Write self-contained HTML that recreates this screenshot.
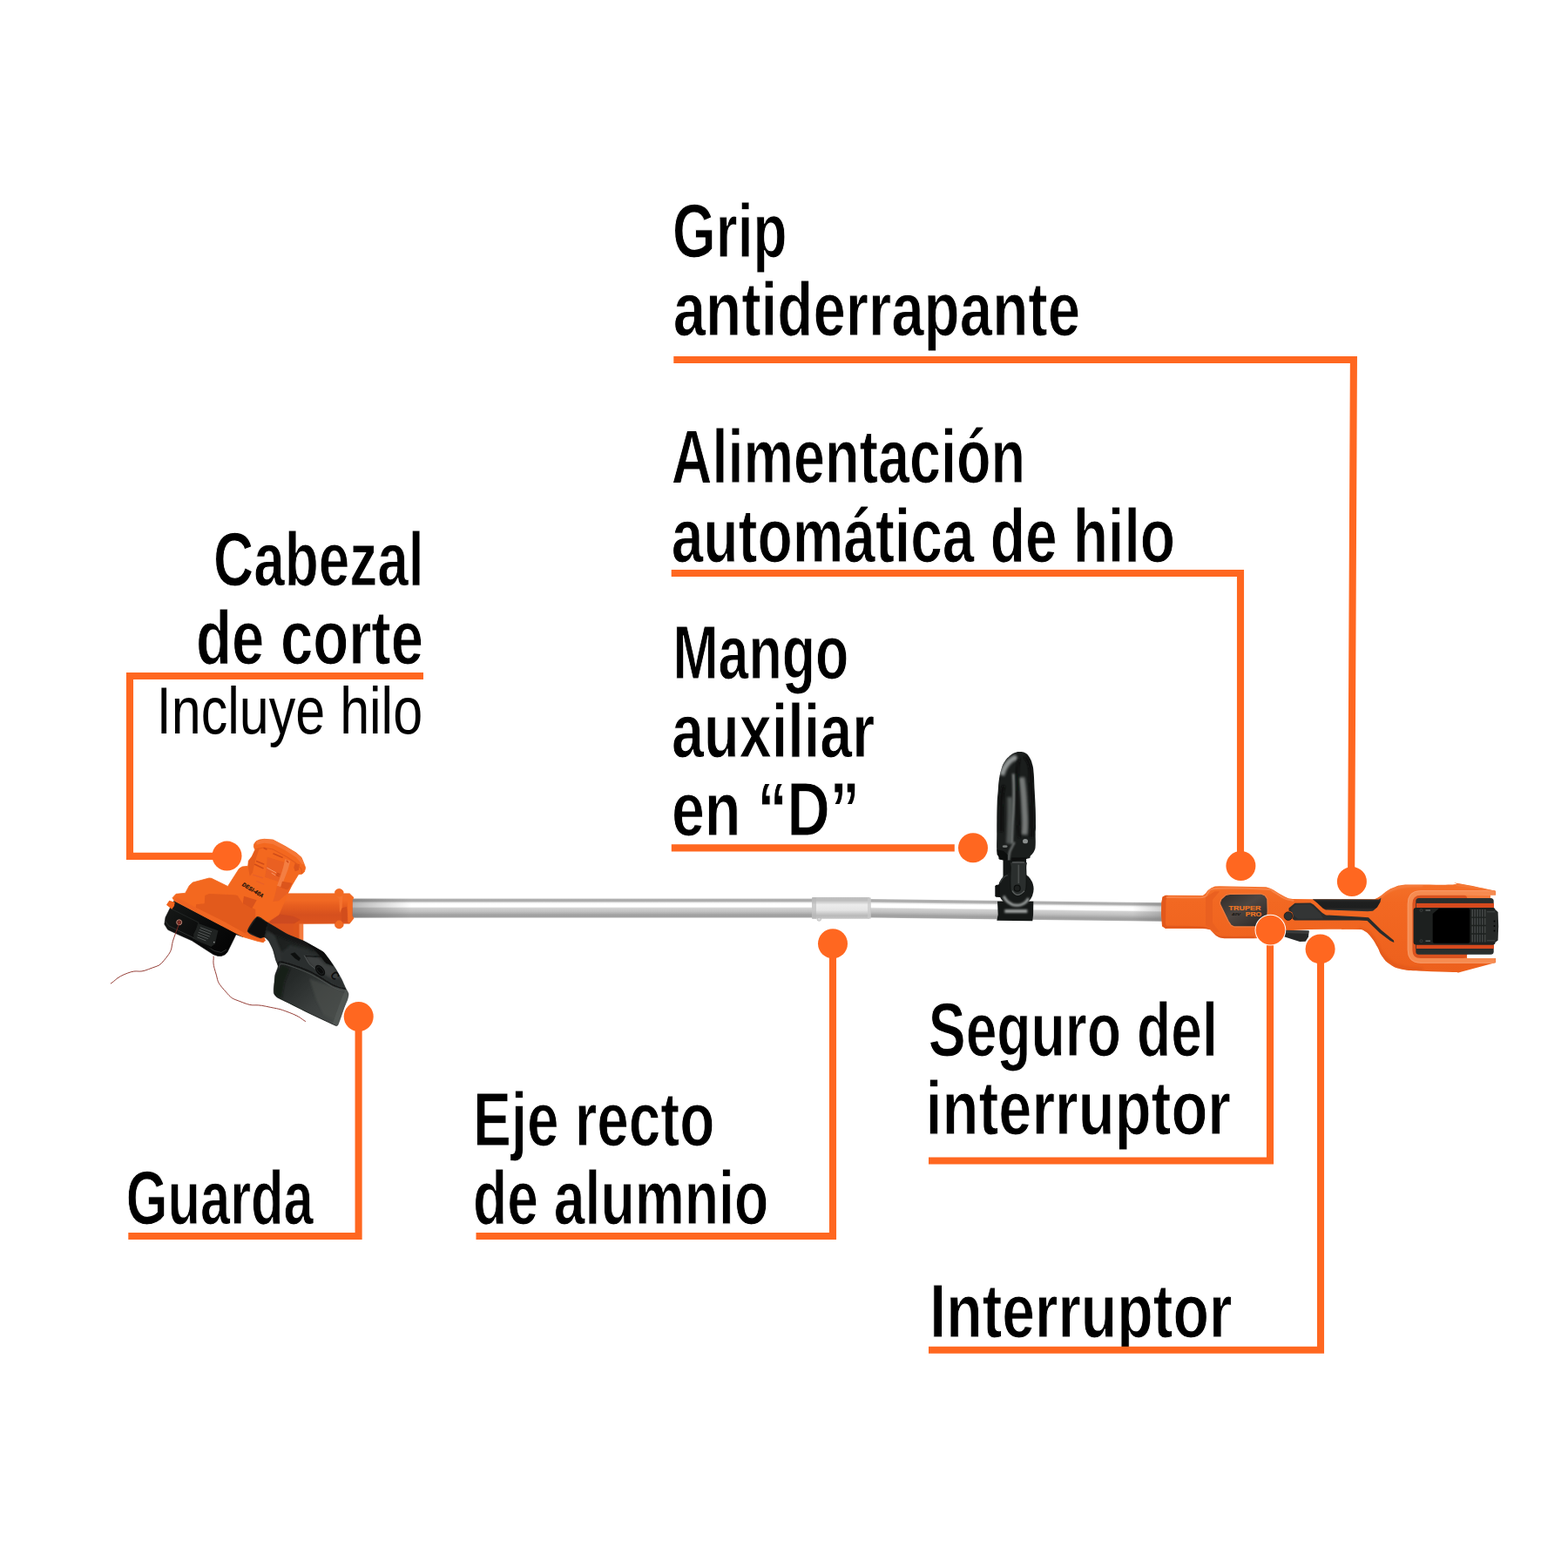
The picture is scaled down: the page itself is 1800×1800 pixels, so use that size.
<!DOCTYPE html>
<html lang="es">
<head>
<meta charset="utf-8">
<title>Desbrozadora - partes</title>
<style>
html,body{margin:0;padding:0;background:#fff;}
body{width:1800px;height:1800px;overflow:hidden;}
svg{display:block;}
.b{font-family:"Liberation Sans",sans-serif;font-weight:bold;font-size:87.4px;fill:#000;stroke:#fff;stroke-width:1.1px;}
.r{font-family:"Liberation Sans",sans-serif;font-weight:normal;font-size:75.8px;fill:#000;}
.ln{fill:none;stroke:#FF6720;stroke-width:8.1;stroke-linejoin:miter;stroke-linecap:butt;}
.dot{fill:#FF6720;}
</style>
</head>
<body>
<svg width="1800" height="1800" viewBox="0 0 1800 1800">
<rect width="1800" height="1800" fill="#fff"/>
<defs>
<linearGradient id="gShaft" x1="0" y1="0" x2="0" y2="1">
<stop offset="0" stop-color="#b4b4b4"/><stop offset="0.12" stop-color="#a8a8a8"/><stop offset="0.22" stop-color="#f2f2f2"/><stop offset="0.28" stop-color="#ffffff"/>
<stop offset="0.43" stop-color="#ffffff"/><stop offset="0.5" stop-color="#d2d2d2"/><stop offset="0.68" stop-color="#c0c0c0"/>
<stop offset="0.86" stop-color="#a0a0a0"/><stop offset="0.95" stop-color="#a2a2a2"/><stop offset="1" stop-color="#bcbcbc"/></linearGradient>
<linearGradient id="gCoup" x1="0" y1="0" x2="0" y2="1">
<stop offset="0" stop-color="#c0c0c0"/><stop offset="0.15" stop-color="#bdbdbd"/><stop offset="0.35" stop-color="#ececec"/>
<stop offset="0.6" stop-color="#e4e4e4"/><stop offset="0.85" stop-color="#b9b9b9"/><stop offset="1" stop-color="#c6c6c6"/></linearGradient>
<linearGradient id="gShadeL" x1="0" y1="0" x2="1" y2="0">
<stop offset="0" stop-color="#555" stop-opacity="0.45"/><stop offset="1" stop-color="#555" stop-opacity="0"/></linearGradient>
<linearGradient id="gShadeR" x1="1" y1="0" x2="0" y2="0">
<stop offset="0" stop-color="#666" stop-opacity="0.35"/><stop offset="1" stop-color="#666" stop-opacity="0"/></linearGradient>
<linearGradient id="gOrg" gradientUnits="userSpaceOnUse" x1="0" y1="1015" x2="0" y2="1117">
<stop offset="0" stop-color="#F47029"/><stop offset="0.2" stop-color="#F26822"/><stop offset="0.6" stop-color="#F0641F"/><stop offset="1" stop-color="#EC601D"/></linearGradient>
<linearGradient id="gPlate" x1="0" y1="0" x2="1" y2="1">
<stop offset="0" stop-color="#2f2a27"/><stop offset="0.45" stop-color="#4d4642"/><stop offset="1" stop-color="#2a2523"/></linearGradient>
<linearGradient id="gGrip" x1="0" y1="0" x2="0" y2="1">
<stop offset="0" stop-color="#3a3b3b"/><stop offset="0.3" stop-color="#1f2020"/><stop offset="0.7" stop-color="#1d1e1e"/><stop offset="1" stop-color="#343535"/></linearGradient>
<linearGradient id="gBat" x1="0" y1="0" x2="0" y2="1">
<stop offset="0" stop-color="#2c302f"/><stop offset="0.5" stop-color="#1b1e1d"/><stop offset="1" stop-color="#2c302f"/></linearGradient>
<clipPath id="cHandle"><path d="M1333.3 1036 L1334.5 1029.6 L1338 1027.7 L1380.7 1028 L1383.5 1026 L1386.7 1022 L1390.5 1019.2 L1394.7 1017.6 L1400 1017.2 L1453.3 1018.3 L1457.5 1019.4 L1461.3 1021.3 L1468 1025.5 L1474.7 1029.3 L1479 1031.2 L1484 1032 L1506.7 1032.2 L1583 1032.4 L1583 1067 L1540 1066.7 L1504 1067 L1474 1068.5 L1468 1072 L1460 1075 L1450 1077 L1440 1077.3 L1405.3 1077.3 L1400 1076.2 L1396 1074 L1392.5 1070.5 L1389.3 1067.3 L1385 1066.2 L1380 1066 L1338 1066 L1334 1063.3 L1333 1050Z"/><path d="M1540 1032.4 L1577.3 1032.4L1577.3 1032.4 C1578.9 1031.6 1580.3 1031.3 1584 1028.9 C1587.7 1026.5 1589.3 1024.5 1593.3 1022 C1597.3 1019.5 1597.6 1019.7 1601.3 1018.3 C1605.0 1016.9 1604.3 1016.8 1609.3 1016.1 C1614.3 1015.4 1609.0 1015.6 1622.7 1015.5 C1636.4 1015.4 1656.2 1015.9 1668 1015.5 C1679.8 1015.1 1662.0 1012.3 1673.3 1013.9 C1684.6 1015.5 1706.3 1020.5 1716.3 1022.5 L1717.1 1023.6 L1717.1 1027.6 L1684.2 1027.8 L1684.2 1099.8 L1717.1 1100.1 L1717.1 1104.9 L1673.3 1116.7L1673.3 1116.7 C1672.1 1116.5 1677.3 1116.4 1668 1116 C1658.7 1115.6 1647.0 1115.6 1633.3 1114.8 C1619.6 1114.0 1618.0 1114.5 1609.3 1112.7 C1600.6 1111.0 1601.3 1110.7 1596 1107.3 C1590.7 1103.9 1590.1 1102.7 1586.7 1098 C1583.3 1093.3 1584.1 1092.3 1581.3 1087.3 C1578.5 1082.3 1578.1 1081.0 1574.7 1076.7 C1571.3 1072.4 1570.8 1071.2 1566.7 1068.9 C1562.6 1066.6 1563.5 1067.3 1557.3 1066.8 C1551.1 1066.3 1544.0 1066.7 1540 1066.7 Z"/></clipPath>
<filter id="b1" filterUnits="userSpaceOnUse" x="100" y="840" width="1660" height="360"><feGaussianBlur stdDeviation="1"/></filter>
<filter id="b2" filterUnits="userSpaceOnUse" x="100" y="840" width="1660" height="360"><feGaussianBlur stdDeviation="1.8"/></filter>
<filter id="b05" filterUnits="userSpaceOnUse" x="100" y="840" width="1660" height="360"><feGaussianBlur stdDeviation="0.5"/></filter>
<clipPath id="cLoop"><path id="loopP" d="M1170 863 C1167.5 862.9 1168.3 862.8 1166 863.7 C1163.7 864.6 1163.0 864.5 1160 867 C1157.0 869.5 1155.8 870.4 1153.3 874.3 C1150.8 878.2 1150.8 878.6 1149.3 883.7 C1147.8 888.8 1147.5 890.6 1146.7 896.3 C1145.9 902.0 1146.2 902.4 1145.7 908.3 C1145.2 914.2 1145.0 913.9 1144.7 921.7 C1144.4 929.5 1144.4 933.5 1144.3 941.7 C1144.2 949.9 1144.3 948.5 1144.3 956.7 C1144.3 964.9 1143.9 970.6 1144.3 976.7 C1144.7 982.8 1144.4 980.2 1146 982.7 C1147.6 985.2 1143.8 986.5 1151.3 987.3 C1158.8 988.1 1170.5 987.2 1178 986 C1185.5 984.8 1181.1 984.2 1183.3 982 C1185.5 979.8 1186.0 979.5 1187.3 976.7 C1188.6 973.9 1188.4 974.7 1188.7 970 C1189.0 965.3 1188.6 961.8 1188.7 956.7 C1188.8 951.6 1189.0 954.9 1189 948.3 C1189.0 941.7 1189.0 937.6 1188.7 928.3 C1188.4 919.0 1188.2 917.6 1187.7 908.3 C1187.2 899.0 1187.3 895.3 1186.7 888.3 C1186.1 881.3 1186.4 882.6 1185.3 878.3 C1184.2 874.0 1184.0 873.0 1182 869.7 C1180.0 866.4 1179.5 865.9 1176.7 864.3 C1173.9 862.7 1172.5 863.1 1170 863Z"/></clipPath>
<linearGradient id="gGuard" gradientUnits="userSpaceOnUse" x1="318" y1="1090" x2="392" y2="1165">
<stop offset="0" stop-color="#1d201f"/><stop offset="0.35" stop-color="#262a29"/><stop offset="0.7" stop-color="#3a3e3d"/><stop offset="1" stop-color="#454948"/></linearGradient>
<linearGradient id="gSpool" gradientUnits="userSpaceOnUse" x1="200" y1="1040" x2="260" y2="1095">
<stop offset="0" stop-color="#151716"/><stop offset="0.5" stop-color="#0b0c0c"/><stop offset="1" stop-color="#040404"/></linearGradient>
<linearGradient id="gNeck" gradientUnits="userSpaceOnUse" x1="0" y1="1025" x2="0" y2="1061">
<stop offset="0" stop-color="#F06A26"/><stop offset="0.22" stop-color="#F26A24"/><stop offset="0.42" stop-color="#E65D1F"/><stop offset="0.7" stop-color="#D6501E"/><stop offset="1" stop-color="#DC541E"/></linearGradient>
<clipPath id="cGuard"><path d="M295 1052.5 L307.5 1059.2 L330 1072.5 L348.3 1080 L363.3 1088.3 L371.7 1093.3 L380 1104.2 L385 1111.7 L391.7 1123.3 L396.7 1134.2 L400 1140.8 L398.8 1147.5 L395 1156.7 L388.3 1175.8 L385.8 1177.5 L380 1175 L355 1163.3 L330 1150.8 L318.3 1145 L314.6 1140.8 L314.2 1135.8 L315 1127.5 L315.8 1119.2 L319.2 1109.2 L316.7 1102.5 L313.3 1090 L308.3 1080 L303.3 1075.8 L298.3 1076.7 L284.2 1069.2Z"/></clipPath>
<clipPath id="cBody"><path d="M198 1030.7 L202 1026.3 L212.7 1025.3 L217.3 1016.7 L221.3 1013 L240 1008 L242.7 1008.3 L261.5 1017.5 L273.3 999 L274.7 997 L278 995 L284.7 994.3 L285.3 988.3 L289.3 983 L292.7 975.7 L291.3 971.7 L291.7 969 L294 965.7 L298 964 L303.3 963.3 L313.3 964 L326.7 971 L340 979 L346 984.3 L349.3 992.3 L350.7 996.3 L349.3 1001 L346.7 1003.3 L342.7 1003.7 L338.7 1010.3 L334.7 1017 L330.7 1025 L330 1027 L320 1050 L305 1060 L300 1072 L302.5 1081.8 L296 1080.5 L279 1075.5 L200 1034Z"/></clipPath>
<clipPath id="cNeck"><path d="M328 1025.7 L384.2 1025.7 L384.6 1023 L386.5 1021 L389.3 1020.2 L392 1021 L394 1023 L394.4 1025.7 L401.3 1025.7 L406 1030.3 L404.6 1033.5 L404.4 1051 L406 1054.3 L401.3 1060.3 L394.4 1060.3 L394 1063.3 L391.5 1065.4 L389.3 1066 L386.5 1065.2 L384.7 1063.3 L384.2 1060.3 L348 1060.5 L348 1082 L336.7 1076 L300 1076 L296 1052Z"/></clipPath>
</defs>
<g id="labels">
<text class="b" transform="translate(772.08 295.0) scale(0.7310 1)">Grip</text>
<text class="b" transform="translate(772.69 385.0) scale(0.7700 1)">antiderrapante</text>
<text class="b" transform="translate(770.78 554.0) scale(0.7402 1)">Alimentación</text>
<text class="b" transform="translate(770.74 645.0) scale(0.7536 1)">automática de hilo</text>
<text class="b" transform="translate(245.08 671.7) scale(0.7310 1)">Cabezal</text>
<text class="b" transform="translate(224.93 762.0) scale(0.7681 1)">de corte</text>
<text class="r" transform="translate(179.86 841.8) scale(0.8051 1)">Incluye hilo</text>
<text class="b" transform="translate(772.40 778.7) scale(0.7169 1)">Mango</text>
<text class="b" transform="translate(771.02 868.7) scale(0.7615 1)">auxiliar</text>
<text class="b" transform="translate(770.88 959.2) scale(0.7808 1)">en “D”</text>
<text class="b" transform="translate(144.79 1405.0) scale(0.7026 1)">Guarda</text>
<text class="b" transform="translate(542.89 1315.0) scale(0.7515 1)">Eje recto</text>
<text class="b" transform="translate(543.06 1405.0) scale(0.7351 1)">de alumnio</text>
<text class="b" transform="translate(1065.79 1211.7) scale(0.7353 1)">Seguro del</text>
<text class="b" transform="translate(1062.51 1301.7) scale(0.7847 1)">interruptor</text>
<text class="b" transform="translate(1067.34 1535.0) scale(0.7768 1)">Interruptor</text>
</g>
<g id="callouts-back">
<path class="ln" d="M773.3 413 H1553.9 L1551.1 1012"/>
<path class="ln" d="M770.7 658 H1424 V993"/>
<path class="ln" d="M486 776 H149 V982.9 H260"/>
<path class="ln" d="M770.8 973.4 H1095.8"/>
<path class="ln" d="M147.3 1419 H411.6 V1166"/>
<path class="ln" d="M546.5 1419 H956 V1083"/>
<path class="ln" d="M1066 1549.8 H1516 V1088"/>
<circle class="dot" cx="1424.4" cy="994" r="17"/>
<circle class="dot" cx="1551.9" cy="1012.1" r="17"/>
<circle class="dot" cx="260.5" cy="982.6" r="17"/>
<circle class="dot" cx="1117" cy="973.3" r="17"/>
<circle class="dot" cx="411.7" cy="1167" r="17"/>
<circle class="dot" cx="956" cy="1083.3" r="17"/>
<circle class="dot" cx="1515.6" cy="1089.4" r="17"/>
</g>
<g id="product">
<g id="shaft">
<rect x="402" y="1031.6" width="532" height="22" fill="url(#gShaft)"/>
<rect x="402" y="1031.6" width="70" height="22" fill="url(#gShadeL)"/>
<g transform="rotate(0.72 998 1043)"><rect x="996" y="1032" width="342" height="21.6" fill="url(#gShaft)"/><rect x="1300" y="1032" width="38" height="21.6" fill="url(#gShadeR)"/></g>
<rect x="932" y="1030" width="67" height="24.8" rx="1.5" fill="url(#gCoup)"/>
<rect x="932" y="1030" width="5" height="24.8" fill="#b5b5b5" opacity="0.6"/>
<rect x="996" y="1030.5" width="4" height="24" fill="#c9c9c9" opacity="0.7"/>
<ellipse cx="940.3" cy="1055.3" rx="2.3" ry="2" fill="#d9d9d9" stroke="#b0b0b0" stroke-width="0.6"/>
</g>
<g id="handle">
<path d="M1333.3 1036 L1334.5 1029.6 L1338 1027.7 L1380.7 1028 L1383.5 1026 L1386.7 1022 L1390.5 1019.2 L1394.7 1017.6 L1400 1017.2 L1453.3 1018.3 L1457.5 1019.4 L1461.3 1021.3 L1468 1025.5 L1474.7 1029.3 L1479 1031.2 L1484 1032 L1506.7 1032.2 L1583 1032.4 L1583 1067 L1540 1066.7 L1504 1067 L1474 1068.5 L1468 1072 L1460 1075 L1450 1077 L1440 1077.3 L1405.3 1077.3 L1400 1076.2 L1396 1074 L1392.5 1070.5 L1389.3 1067.3 L1385 1066.2 L1380 1066 L1338 1066 L1334 1063.3 L1333 1050Z" fill="url(#gOrg)"/>
<path d="M1540 1032.4 L1577.3 1032.4L1577.3 1032.4 C1578.9 1031.6 1580.3 1031.3 1584 1028.9 C1587.7 1026.5 1589.3 1024.5 1593.3 1022 C1597.3 1019.5 1597.6 1019.7 1601.3 1018.3 C1605.0 1016.9 1604.3 1016.8 1609.3 1016.1 C1614.3 1015.4 1609.0 1015.6 1622.7 1015.5 C1636.4 1015.4 1656.2 1015.9 1668 1015.5 C1679.8 1015.1 1662.0 1012.3 1673.3 1013.9 C1684.6 1015.5 1706.3 1020.5 1716.3 1022.5 L1717.1 1023.6 L1717.1 1027.6 L1684.2 1027.8 L1684.2 1099.8 L1717.1 1100.1 L1717.1 1104.9 L1673.3 1116.7L1673.3 1116.7 C1672.1 1116.5 1677.3 1116.4 1668 1116 C1658.7 1115.6 1647.0 1115.6 1633.3 1114.8 C1619.6 1114.0 1618.0 1114.5 1609.3 1112.7 C1600.6 1111.0 1601.3 1110.7 1596 1107.3 C1590.7 1103.9 1590.1 1102.7 1586.7 1098 C1583.3 1093.3 1584.1 1092.3 1581.3 1087.3 C1578.5 1082.3 1578.1 1081.0 1574.7 1076.7 C1571.3 1072.4 1570.8 1071.2 1566.7 1068.9 C1562.6 1066.6 1563.5 1067.3 1557.3 1066.8 C1551.1 1066.3 1544.0 1066.7 1540 1066.7 Z" fill="url(#gOrg)"/>
<path d="M1628 1027.5 H1711 V1031.2 H1628Z" fill="#F47A3A"/>
<g clip-path="url(#cHandle)">
<rect x="1619" y="1027" width="66" height="73" rx="6" fill="#DA521E"/>
<path d="M1716.8 1025 H1631 Q1618.6 1025 1618.6 1037.5 V1090.5 Q1618.6 1102.9 1631 1102.9 H1716.8" fill="none" stroke="#F68B50" stroke-width="5.6"/>
<path d="M1716.8 1022.6 H1631 Q1616.2 1022.6 1616.2 1037.5 V1090.5 Q1616.2 1105.3 1631 1105.3 H1716.8" fill="none" stroke="#F9A273" stroke-width="0.9" opacity="0.8"/>
<path d="M1668 1015.5 L1673.3 1013.9 L1716.3 1022.5 L1716.7 1023.3 L1673.3 1017.3Z" fill="#F47A3A" opacity="0.8"/>
<path d="M1584 1030 C1586.2 1028.5 1588.9 1026.0 1593.3 1023.6 C1597.7 1021.2 1597.7 1021.1 1602.7 1019.6 C1607.7 1018.1 1607.6 1018.0 1614.7 1017.3 C1621.8 1016.6 1629.0 1016.8 1633.3 1016.7" fill="none" stroke="#F9935F" stroke-width="2.2" opacity="0.55" filter="url(#b1)"/>
<path d="M1560 1066 C1562.8 1067.2 1567.3 1067.3 1572 1071.3 C1576.7 1075.3 1576.6 1077.7 1580 1083.3 C1583.4 1088.9 1582.7 1090.2 1586.7 1095.3 C1590.7 1100.4 1591.4 1101.7 1597.3 1105.3 C1603.2 1108.9 1603.6 1109.0 1612 1110.7 C1620.4 1112.4 1628.3 1112.2 1633.3 1112.7" fill="none" stroke="#DC551D" stroke-width="3" opacity="0.6" filter="url(#b1)"/>
<path d="M1333.3 1036 L1334.5 1029.6 L1338 1027.7 L1341 1028 L1338.5 1033 L1338 1060 L1340 1066 L1338 1066 L1334 1063.3 L1333 1050Z" fill="#E2581B"/>
<path d="M1338.7 1030 C1345.6 1030.0 1372.0 1030.8 1380 1030 C1388.0 1029.2 1384.0 1026.6 1386.7 1024.9 C1389.4 1023.2 1384.9 1020.7 1396 1020 C1407.1 1019.3 1442.4 1020.2 1453.3 1020.7 C1464.2 1021.2 1457.7 1021.5 1461.3 1023.3 C1464.9 1025.1 1470.7 1029.5 1474.7 1031.3 C1478.7 1033.1 1483.5 1033.5 1485.3 1034" fill="none" stroke="#F98D56" stroke-width="2" opacity="0.7" filter="url(#b05)"/>
<path d="M1338.7 1064 C1345.6 1064.1 1371.6 1063.9 1380 1064.7 C1388.4 1065.5 1386.4 1067.0 1389.3 1068.7 C1392.2 1070.4 1394.4 1073.5 1397.3 1074.7 C1400.2 1075.9 1399.6 1075.8 1406.7 1076 C1413.8 1076.2 1434.5 1076.0 1440 1076" fill="none" stroke="#DE561C" stroke-width="2.4" opacity="0.8" filter="url(#b05)"/>
<path d="M1384 1030 L1394.7 1023.3 L1400 1023.3 L1392 1032.7 L1392 1059.3 L1400 1070 L1394.7 1070 L1384 1062Z" fill="#EA6020"/>
</g>
<path d="M1400.4 1036 L1402 1032 L1407.3 1027.3 L1412 1026.3 L1447.7 1026 L1452.3 1027.9 L1454.9 1031.9 L1455.3 1046 L1454.4 1057.3 L1452.3 1061.7 L1448.3 1063.9 L1417.1 1064 L1413.3 1062.3 L1409.9 1057.3 L1400.7 1038.3Z" fill="url(#gPlate)" stroke="#F07A3C" stroke-width="1.3" stroke-linejoin="round"/>
<text x="1410.6" y="1045.1" font-family="Liberation Sans, sans-serif" font-weight="bold" font-size="8" textLength="36.8" lengthAdjust="spacingAndGlyphs" fill="#EE7624" stroke="#EE7624" stroke-width="0.2">TRUPER</text>
<text x="1429.8" y="1052.2" font-family="Liberation Sans, sans-serif" font-weight="bold" font-size="8" textLength="18.4" lengthAdjust="spacingAndGlyphs" fill="#EE7624" stroke="#EE7624" stroke-width="0.2">PRO</text>
<text x="1414" y="1051.4" font-family="Liberation Sans, sans-serif" font-weight="bold" font-style="italic" font-size="4.4" textLength="10" lengthAdjust="spacingAndGlyphs" fill="#141210">40V</text>
<path d="M1506.7 1032.2 L1583 1032.5 L1585.5 1030.5 L1584.5 1035.5 L1581 1041.5 L1576 1045.8 L1570 1046.2 L1522 1044.4 L1519 1043 L1512 1036.5Z" fill="url(#gGrip)"/>
<path d="M1479.5 1042.5 L1486.5 1036.8 L1504.5 1036.6 L1508 1038.5 L1518 1048 L1522 1050.5 L1560 1052.6 L1571 1053.2 L1586 1068 L1600 1079.5 L1600.3 1082 L1596 1080 L1584 1071 L1569.5 1057 L1560 1056.4 L1520 1056.4 L1486 1056.6 L1481.5 1053.5 L1479.5 1048Z" fill="#2a2c2c"/>
<path d="M1487 1038.2 L1504 1038 L1516 1049 L1519 1054.5 L1490 1054.8 L1484 1050 L1482 1044Z" fill="#333535"/>
<circle cx="1478.7" cy="1051.4" r="5.8" fill="#E9601D"/>
<circle cx="1478.9" cy="1051.6" r="4.7" fill="#2f3131" stroke="#171818" stroke-width="0.9"/>
<path d="M1466 1067.5 L1502.7 1068.4 L1502 1075.5 L1498.7 1080.7 L1492 1080.9 L1473.3 1075 L1466 1071.5Z" fill="#262828"/>
<path d="M1470 1068 L1502.5 1068.6 L1502 1072 L1474 1071Z" fill="#3a3c3c"/>
<rect x="1625.3" y="1031" width="89.4" height="64.8" rx="3.5" fill="url(#gBat)"/>
<rect x="1626" y="1036.9" width="89" height="5.1" fill="#D64A1E"/>
<rect x="1626" y="1084.5" width="89" height="4.5" fill="#D64A1E"/>
<rect x="1622.6" y="1042" width="94" height="42.5" rx="3" fill="#1d201f"/>
<path d="M1644.7 1049 L1652 1042.7 L1686 1042.7 L1687.3 1044 L1687.3 1081.4 L1686 1082.8 L1646 1082.8 L1644.7 1081.4Z" fill="#000"/>
<rect x="1689.5" y="1044" width="1.5" height="37.5" fill="#444847"/><rect x="1692.4" y="1044" width="1.5" height="37.5" fill="#444847"/><rect x="1695.3" y="1044" width="1.5" height="37.5" fill="#444847"/><rect x="1698.2" y="1044" width="1.5" height="37.5" fill="#444847"/><rect x="1701.1" y="1044" width="1.5" height="37.5" fill="#444847"/><rect x="1704.0" y="1044" width="1.5" height="37.5" fill="#444847"/>
<path d="M1688 1053.2 H1706 M1688 1062.5 H1706 M1688 1072 H1706" stroke="#1d201f" stroke-width="1.3" fill="none"/>
<path d="M1706 1045 L1717 1044.4 L1719.6 1047 L1720.2 1063 L1719.6 1079.5 L1717 1081.6 L1706 1081.4Z" fill="#262928"/>
<rect x="1707" y="1046" width="9" height="1.4" fill="#3b3f3e"/><rect x="1707" y="1079" width="9" height="1.4" fill="#3b3f3e"/>
<circle cx="1715.5" cy="1057.5" r="0.9" fill="#000"/><circle cx="1715.5" cy="1063" r="0.9" fill="#000"/><circle cx="1715.5" cy="1068.5" r="0.9" fill="#000"/>
<circle cx="1631.5" cy="1045" r="1.5" fill="none" stroke="#4a4e4d" stroke-width="0.6"/><circle cx="1631.5" cy="1080.2" r="1.5" fill="none" stroke="#4a4e4d" stroke-width="0.6"/>
<rect x="1636.5" y="1044.2" width="5.5" height="1.6" fill="#5a5e5d"/><rect x="1636.5" y="1079.4" width="5.5" height="1.6" fill="#5a5e5d"/>
<rect x="1684.2" y="1096" width="34" height="3.8" fill="#fff"/>
</g>
<g id="dhandle">
<path d="M1170 863 C1167.5 862.9 1168.3 862.8 1166 863.7 C1163.7 864.6 1163.0 864.5 1160 867 C1157.0 869.5 1155.8 870.4 1153.3 874.3 C1150.8 878.2 1150.8 878.6 1149.3 883.7 C1147.8 888.8 1147.5 890.6 1146.7 896.3 C1145.9 902.0 1146.2 902.4 1145.7 908.3 C1145.2 914.2 1145.0 913.9 1144.7 921.7 C1144.4 929.5 1144.4 933.5 1144.3 941.7 C1144.2 949.9 1144.3 948.5 1144.3 956.7 C1144.3 964.9 1143.9 970.6 1144.3 976.7 C1144.7 982.8 1144.4 980.2 1146 982.7 C1147.6 985.2 1143.8 986.5 1151.3 987.3 C1158.8 988.1 1170.5 987.2 1178 986 C1185.5 984.8 1181.1 984.2 1183.3 982 C1185.5 979.8 1186.0 979.5 1187.3 976.7 C1188.6 973.9 1188.4 974.7 1188.7 970 C1189.0 965.3 1188.6 961.8 1188.7 956.7 C1188.8 951.6 1189.0 954.9 1189 948.3 C1189.0 941.7 1189.0 937.6 1188.7 928.3 C1188.4 919.0 1188.2 917.6 1187.7 908.3 C1187.2 899.0 1187.3 895.3 1186.7 888.3 C1186.1 881.3 1186.4 882.6 1185.3 878.3 C1184.2 874.0 1184.0 873.0 1182 869.7 C1180.0 866.4 1179.5 865.9 1176.7 864.3 C1173.9 862.7 1172.5 863.1 1170 863Z" fill="#1b1e1d"/>
<path d="M1151.5 984.7 L1178.1 984.7 L1178.1 1010 L1151.5 1010Z" fill="#131615"/>
<g clip-path="url(#cLoop)">
<path d="M1150 889.7 C1151.1 887.2 1151.3 884.8 1154 880.3 C1156.7 875.8 1156.5 876.0 1160 873 C1163.5 870.0 1165.4 870.1 1167.3 869" fill="none" stroke="#9a9e9d" stroke-width="6" filter="url(#b2)" opacity="0.95"/>
<path d="M1163.3 888.3 C1163.5 893.6 1164.0 897.6 1164 908.3 C1164.0 919.0 1163.8 917.6 1163.3 928.3 C1162.8 939.0 1162.5 937.6 1162 948.3 C1161.5 959.0 1161.5 963.0 1161.3 968.3" fill="none" stroke="#7d8180" stroke-width="3" filter="url(#b1)"/>
<path d="M1172.7 892.3 C1173.2 896.6 1173.8 898.7 1174.7 908.3 C1175.6 917.9 1175.5 918.5 1176 928.3 C1176.5 938.1 1176.7 937.0 1176.7 945 C1176.7 953.0 1176.2 954.8 1176 958.3" fill="none" stroke="#7a7e7d" stroke-width="7" filter="url(#b2)" opacity="0.95"/>
<path d="M1159.3 915 C1159.3 920.3 1159.5 924.3 1159.3 935 C1159.1 945.7 1159.0 946.1 1158.7 955 C1158.4 963.9 1158.2 964.8 1158 968.3" fill="none" stroke="#5a5e5d" stroke-width="6" filter="url(#b2)" opacity="0.9"/>
<path d="M1170 870.3 C1169.5 873.3 1168.8 873.3 1168.3 881.7 C1167.8 890.1 1168.0 891.0 1168 901.7 C1168.0 912.4 1168.1 911.0 1168.3 921.7 C1168.5 932.4 1168.2 931.0 1168.7 941.7 C1169.2 952.4 1169.7 956.4 1170 961.7" fill="none" stroke="#0d0f0e" stroke-width="3" filter="url(#b1)"/>
<path d="M1176.7 868.3 C1178.1 871.0 1180.2 871.2 1182 878.3 C1183.8 885.4 1182.7 885.2 1183.3 895 C1183.9 904.8 1183.9 902.5 1184.3 915 C1184.7 927.5 1184.8 929.2 1184.7 941.7 C1184.6 954.2 1184.2 956.4 1184 961.7" fill="none" stroke="#0d0f0e" stroke-width="4" filter="url(#b1)"/>
<path d="M1152 901.7 C1151.5 905.2 1150.7 906.1 1150 915 C1149.3 923.9 1149.5 924.3 1149.3 935 C1149.1 945.7 1149.3 949.7 1149.3 955" fill="none" stroke="#0d0f0e" stroke-width="4" filter="url(#b1)"/>
<ellipse cx="1177" cy="965.7" rx="3" ry="2.6" fill="#8a8e8d" filter="url(#b05)"/>
<ellipse cx="1153.7" cy="971.7" rx="3" ry="1.4" fill="#777b7a" filter="url(#b05)"/>
<path d="M1164.7 966.7 C1163.8 968.5 1162.9 969.8 1161.3 973.3 C1159.7 976.8 1159.6 975.5 1158.7 980 C1157.8 984.5 1158.1 983.8 1158 990 C1157.9 996.2 1158.2 999.8 1158.3 1003.3" fill="none" stroke="#8a8e8d" stroke-width="2" filter="url(#b1)" opacity="0.9"/>
<path d="M1144.3 975.3 L1152 976.7 L1156.7 981.3 L1156.7 1005.3 L1151.3 1005.3 L1151.7 990 L1145.3 982Z" fill="#0c0e0d"/>
<path d="M1161.3 984.7 L1178.7 984.7 L1178.7 989.3 L1160.7 989.3Z" fill="#0c0e0d" filter="url(#b05)"/>
</g>
<path d="M1145 1034.7 L1186.3 1034.7 L1186.1 1050 L1185.3 1057.3 L1144.3 1056.7 L1145.7 1050Z" fill="#151817"/>
<circle cx="1166.2" cy="1020.6" r="20.4" fill="#171a19"/>
<path d="M1142.3 1017.3 L1143.3 1016 L1148 1015.3 L1148 1030 L1143.3 1029.7 L1142.3 1028.7Z" fill="#0f1110"/>
<path d="M1152 1028.7 C1153.6 1030.6 1153.9 1033.2 1158 1036 C1162.1 1038.8 1162.5 1039.1 1167.3 1039.3 C1172.1 1039.5 1172.4 1038.8 1176 1036.7 C1179.6 1034.6 1179.4 1032.7 1180.7 1031.3" fill="none" stroke="#9a9e9d" stroke-width="3" filter="url(#b1)"/>
<path d="M1148 1013.3 C1149.1 1011.7 1149.7 1009.6 1152 1007.3 C1154.3 1005.0 1155.4 1005.4 1156.7 1004.7" fill="none" stroke="#3a3e3d" stroke-width="1.5" filter="url(#b05)"/>
<path d="M1153.3 1046 L1179.3 1046" fill="none" stroke="#9a9e9d" stroke-width="4" filter="url(#b1)"/>
<path d="M1161.3 989.3 C1164.6 987.8 1173.4 987.8 1176.7 989.3 C1180.0 990.8 1177.4 991.2 1177.7 996.7 C1178.0 1002.2 1178.3 1011.2 1178 1016.7 C1177.7 1022.2 1177.5 1021.7 1176 1024 C1174.5 1026.3 1172.7 1027.2 1170.7 1028 C1168.7 1028.8 1167.9 1028.8 1166 1028 C1164.1 1027.2 1162.5 1026.3 1161.3 1024 C1160.1 1021.7 1160.2 1022.2 1160 1016.7 C1159.8 1011.2 1160.0 1002.2 1160.3 996.7 C1160.6 991.2 1158.0 990.8 1161.3 989.3Z" fill="#2a2e2d" stroke="#0e100f" stroke-width="0.8"/>
<path d="M1162 990 L1176 990" fill="none" stroke="#595d5c" stroke-width="1.2" filter="url(#b05)"/>
<path d="M1169.3 992.7 L1169.3 1014" fill="none" stroke="#4a4e4d" stroke-width="1.6" filter="url(#b05)"/>
<path d="M1162 1022.7 C1163.1 1023.8 1163.7 1025.6 1166 1026.7 C1168.3 1027.8 1168.0 1027.8 1170.7 1026.7 C1173.4 1025.6 1174.6 1023.8 1176 1022.7" fill="none" stroke="#5e6261" stroke-width="1.2" filter="url(#b05)"/>
<circle cx="1167.7" cy="1019.7" r="3.5" fill="#1d201f" stroke="#0c0e0d" stroke-width="1.2"/>
</g>
<g id="head">
<path d="M245.1 1097.6 C245.7 1102.9 243.4 1103.6 247.2 1115.3 C250.9 1127.0 248.1 1126.0 257.6 1136.7 C267.1 1147.4 264.5 1145.3 278.9 1150.9 C293.3 1156.5 289.6 1151.8 305.6 1155.3 C321.6 1158.8 318.6 1157.2 332.2 1162.4 C345.8 1167.6 345.3 1169.5 350.9 1172.6" fill="none" stroke="#8a2a22" stroke-width="0.9"/>
<path d="M328 1025.7 L384.2 1025.7 L384.6 1023 L386.5 1021 L389.3 1020.2 L392 1021 L394 1023 L394.4 1025.7 L401.3 1025.7 L406 1030.3 L404.6 1033.5 L404.4 1051 L406 1054.3 L401.3 1060.3 L394.4 1060.3 L394 1063.3 L391.5 1065.4 L389.3 1066 L386.5 1065.2 L384.7 1063.3 L384.2 1060.3 L348 1060.5 L348 1082 L336.7 1076 L300 1076 L296 1052Z" fill="url(#gNeck)" stroke="#EC621F" stroke-width="0.5" stroke-linejoin="round"/>
<g clip-path="url(#cNeck)"><g filter="url(#b05)">
<path d="M336.7 1058 L348 1058 L348 1083 L336.7 1083Z" fill="#DE561C"/>
<path d="M343.5 1060.5 L348.5 1060.5 L348.5 1083 L343.5 1083Z" fill="#F47B3F"/>
<path d="M310 1047.7 L336.7 1051.7 L344.7 1055.7 L338 1060.3 L310 1060.3Z" fill="#C9471E" opacity="0.8"/>
<path d="M392 1042.3 L398 1041 L398.7 1058.3 L392 1058.3Z" fill="#D24E1D"/>
<path d="M385.3 1027.7 L393.3 1027 L392.7 1042.3 L390 1047.7 L389.3 1031.7Z" fill="#F4722E"/>
<path d="M398.7 1027 L406 1030.3 L404.3 1033.7 L404 1051 L406 1054.3 L401.3 1060.3 L399.3 1058.3Z" fill="#F26A24"/>
<circle cx="389.3" cy="1025" r="4.6" fill="#F26A24"/><circle cx="389.3" cy="1061.2" r="4.6" fill="#F26A24"/>
</g></g>
<path d="M200 1034 L196 1041 L190 1053 L188.8 1061 L192.7 1067.3 L205 1073 L220.2 1079.8 L245 1095.8 L250 1097.4 L254 1097.6 L258 1096 L261 1093 L266 1083 L271 1072.7 L279 1075.5Z" fill="url(#gSpool)" stroke="#0b0c0c" stroke-width="0.6" stroke-linejoin="round"/>
<path d="M189.5 1057 L194 1063 L221 1076 L246 1091.5 L254 1093.5 L260 1090" fill="none" stroke="#2f3231" stroke-width="0.9"/>
<path d="M196 1043 L228 1059 L226 1066 L222 1078" fill="none" stroke="#262928" stroke-width="0.8"/>
<path d="M228.2 1060.2 L250.4 1068.2 L246.9 1083.3 L242.4 1086.9 L223.8 1078.9 L222 1072.7Z" fill="#1f2221"/>
<path d="M230 1064.7 l13 5 M228.8 1067.3 l13 5 M227.7 1070.2 l13 5 M226.8 1073 l12 4.6 M226.4 1075.9 l10 4" stroke="#5a5e5d" stroke-width="0.9" fill="none"/>
<path d="M223.8 1078.9 L242.4 1086.9 L241.6 1088.7 L223.1 1080.7Z" fill="#0a0b0b"/>
<circle cx="245.8" cy="1081.6" r="0.9" fill="#8a8d8c"/>
<circle cx="205.7" cy="1058.8" r="3" fill="#5a2a24" stroke="#b98474" stroke-width="1"/>
<circle cx="205.7" cy="1058.8" r="1.2" fill="#8a2a22"/>
<path d="M206 1059.3 C204.1 1064.4 204.3 1064.2 199.8 1076.2 C195.3 1088.2 199.7 1088.3 190.9 1099.3 C182.1 1110.2 183.8 1107.4 170.4 1112.7 C157.1 1118.0 159.5 1112.1 146.4 1117.1 C133.3 1122.0 132.8 1125.6 126.9 1129.2" fill="none" stroke="#8a2a22" stroke-width="0.9"/>
<path d="M191 1038.7 L194.3 1033.7 L200.7 1035.7 L200 1040 L197.3 1043.7Z" fill="#F0641E"/>
<path d="M198 1030.7 L202 1026.3 L212.7 1025.3 L217.3 1016.7 L221.3 1013 L240 1008 L242.7 1008.3 L261.5 1017.5 L273.3 999 L274.7 997 L278 995 L284.7 994.3 L285.3 988.3 L289.3 983 L292.7 975.7 L291.3 971.7 L291.7 969 L294 965.7 L298 964 L303.3 963.3 L313.3 964 L326.7 971 L340 979 L346 984.3 L349.3 992.3 L350.7 996.3 L349.3 1001 L346.7 1003.3 L342.7 1003.7 L338.7 1010.3 L334.7 1017 L330.7 1025 L330 1027 L320 1050 L305 1060 L300 1072 L302.5 1081.8 L296 1080.5 L279 1075.5 L200 1034Z" fill="#F3681F" stroke="#F3681F" stroke-width="0.8" stroke-linejoin="round"/>
<g clip-path="url(#cBody)"><g filter="url(#b05)">
<path d="M235.3 1028 L240 1026 L269.3 1027.3 L272.7 1028 L278.7 1037.3 L293.3 1044 L293.3 1053.3 L284 1069.3 L278.7 1075.3 L260 1065.3 L224 1046 L225.3 1038 L234.7 1037.3Z" fill="#E25A1C"/>
<path d="M280 1028.7 L294.7 1033.3 L289.3 1042.7 L278.7 1037.3Z" fill="#D9521B"/>
<path d="M224 1046 L260 1065.3 L278.7 1075.3 L282 1071.7 L258.7 1058.7 L226.7 1042.7Z" fill="#F06622"/>
<path d="M200 1034 L224 1046 L226.7 1042.7 L202.7 1030Z" fill="#EE6421"/>
<path d="M292 976.3 L297.3 975 L294.7 983 L292 992.3 L290 1001.7 L286.7 1005.7 L284.7 994.3 L285.3 988.3 L289.3 983Z" fill="#E45C1D"/>
<path d="M306.7 983.7 L326.7 989.7 L324 1001.7 L320 1012.3 L304 1007 L306 995Z" fill="#EA6020"/>
<path d="M327.3 986.3 L333.3 988.3 L330.7 997.7 L326.7 1008.3 L322.7 1018.3 L318 1017 L322 1005.7 L325.3 995Z" fill="#F47E42"/>
<path d="M338.7 991 L344 992.3 L342.7 999 L338.7 1000.3 L337.3 995.7Z" fill="#DC541C"/>
<path d="M324 1011.7 L335.3 1013.7 L334 1017 L330 1021.7 L322 1019Z" fill="#DC541C"/>
<path d="M334.7 1016.3 L330.7 1025 L326.7 1028.3 L320 1034.3 L313.3 1035 L315.3 1028.3 L318 1017 L322.7 1018.3 L322 1019 L330 1021.7Z" fill="#E96021"/>
<path d="M293.3 975 L302.7 973 L313.3 975 L329.3 983.7 L340 991 L346 997.7 L346.7 1003" fill="none" stroke="#E25A1C" stroke-width="1.1"/>
<path d="M294 965.7 L303.3 963.3 L313.3 964 L326.7 971 L340 979 L346 984.3 L349.3 992.3 L346.7 992.3 L340 984.3 L326.7 975.7 L313.3 969 L303.3 967.7 L294.7 969.7Z" fill="#F77D3E" opacity="0.7"/>
</g>
<path d="M303.3 973.7 L306 975 M314 980 L324 984.3 M294.7 988.7 L302.7 992 M292.7 992.3 L302 996.7 M317.3 1004.3 L320 1005.7 M318.7 1002.7 L321 1003.7 M329.3 988.3 L330.7 989.7" stroke="#D04C19" stroke-width="1.6" fill="none" stroke-linecap="round"/>
<path d="M290.7 1004.3 L301.3 1007.7 M294.7 1011.7 L302.7 1015 M306 995.7 L316 1001 M306.7 998.3 L315.3 1003.7" stroke="#E8602A" stroke-width="1.3" fill="none" stroke-linecap="round"/>
<path d="M306.7 996.3 L316.7 1001.7 M312 1002.3 L316 1004.7" stroke="#F9A070" stroke-width="0.9" fill="none" stroke-linecap="round"/>
</g>
<text transform="translate(277.6 1016.6) rotate(31) scale(0.9 1)" font-family="Liberation Sans, sans-serif" font-weight="bold" font-style="italic" font-size="6.4" fill="#24140c" stroke="#24140c" stroke-width="0.25" letter-spacing="0.2">DESI-40A</text>
<path d="M284.2 1069.2 L298.3 1076.7 L303.3 1075.8 L305 1080 L301.7 1081.7 L280 1072.5Z" fill="#EE6220"/>
<path d="M295 1052.5 C297.7 1051.3 303.4 1056.9 307.5 1059.2 C311.6 1061.5 325.2 1070.1 330 1072.5 C334.8 1074.9 344.4 1078.2 348.3 1080 C352.2 1081.8 360.6 1086.7 363.3 1088.3 C366.0 1089.9 369.8 1091.4 371.7 1093.3 C373.6 1095.2 378.4 1102.1 380 1104.2 C381.6 1106.3 383.6 1109.5 385 1111.7 C386.4 1113.9 390.3 1120.7 391.7 1123.3 C393.1 1125.9 395.7 1132.2 396.7 1134.2 C397.7 1136.2 399.8 1139.2 400 1140.8 C400.2 1142.4 399.4 1145.6 398.8 1147.5 C398.2 1149.4 396.2 1153.4 395 1156.7 C393.8 1160.0 389.4 1173.4 388.3 1175.8 C387.2 1178.2 386.8 1177.6 385.8 1177.5 C384.8 1177.4 383.6 1176.7 380 1175 C376.4 1173.3 360.8 1166.1 355 1163.3 C349.2 1160.5 334.3 1152.9 330 1150.8 C325.7 1148.7 320.1 1146.2 318.3 1145 C316.5 1143.8 315.1 1141.9 314.6 1140.8 C314.1 1139.7 314.2 1137.4 314.2 1135.8 C314.2 1134.2 314.8 1129.4 315 1127.5 C315.2 1125.6 315.3 1121.3 315.8 1119.2 C316.3 1117.1 319.1 1111.1 319.2 1109.2 C319.3 1107.3 317.4 1104.7 316.7 1102.5 C316.0 1100.3 314.3 1092.6 313.3 1090 C312.3 1087.4 309.5 1081.7 308.3 1080 C307.1 1078.3 304.5 1076.2 303.3 1075.8 C302.1 1075.4 300.5 1077.5 298.3 1076.7 C296.1 1075.9 284.6 1072.0 284.2 1069.2 C283.8 1066.4 292.3 1053.7 295 1052.5Z" fill="url(#gGuard)" stroke="#1d201f" stroke-width="0.5" stroke-linejoin="round"/>
<g clip-path="url(#cGuard)">
<g filter="url(#b1)">
<path d="M306.7 1068.3 L315 1073.3 L323.3 1093.3 L324.2 1103.3 L319.2 1109.2 L316.7 1102.5 L313.3 1090 L308.3 1080 L304.2 1075.8Z" fill="#2d3130"/>
<path d="M307.5 1056.7 L330 1070.8 L348.3 1078.3 L363.3 1086.7 L371.7 1091.7 L381.7 1104.2 L373.3 1103.3 L363.3 1093.3 L350.8 1086.7 L333.3 1080 L315 1073.3 L306.7 1068.3Z" fill="#161918"/>
<path d="M323.3 1093.3 L333.3 1085 L350.8 1090 L363.3 1096.7 L373.3 1105 L380 1105.8 L385 1111.7 L391.7 1123.3 L396.7 1134.2 L384.2 1131.7 L355 1115 L323.3 1104.2Z" fill="#2b2f2e"/>
<path d="M351.7 1097.5 L366.7 1100 L372.5 1106.7 L382.5 1110 L390 1123.3 L380 1123.3 L360 1110 L353.3 1103.3Z" fill="#3d4140"/>
<path d="M355 1123.3 L388.3 1135.8 L398.3 1141.7 L395 1156.7 L388.3 1173.3 L371.7 1165 L363.3 1148.3Z" fill="#4a4e4d" opacity="0.55"/>
<path d="M314.2 1123.3 L323.3 1106.7 L333.3 1111.7 L326.7 1127.5 L323.3 1146.7 L314.2 1142.5Z" fill="#141716" opacity="0.7"/>
</g>
<g filter="url(#b05)">
<path d="M295 1052.5 L307.5 1059.2 L305 1067.5 L303.3 1075.8 L298.3 1076.7 L284.2 1069.2Z" fill="#0c0d0d"/>
<path d="M348.3 1079.2 L363.3 1087.5 L371.7 1092.5 L380 1104.2 L383.3 1109.2 L374.2 1105.8 L368.3 1098.3 L361.7 1090.8Z" fill="#0a0b0b"/>
<path d="M319.2 1109.2 C319.9 1108.4 317.3 1103.2 323.3 1104.2 C329.3 1105.2 344.9 1110.4 355 1115 C365.1 1119.6 377.1 1128.4 384.2 1131.7 C391.3 1135.0 395.3 1134.5 397.5 1135" fill="none" stroke="#0f1010" stroke-width="1.4" opacity="0.85"/>
<path d="M320 1111.7 C320.8 1110.9 319.2 1105.7 325 1106.7 C330.8 1107.7 345.1 1112.9 355 1117.5 C364.9 1122.1 377.2 1130.9 384.2 1134.2 C391.1 1137.5 394.6 1137.0 396.7 1137.5" fill="none" stroke="#5a5e5d" stroke-width="1" opacity="0.7"/>
<path d="M349.2 1096.7 L355 1106.7 L363.3 1113.3" fill="none" stroke="#555958" stroke-width="0.9"/>
<path d="M350.8 1097.5 L368.3 1098.3" fill="none" stroke="#0d0e0e" stroke-width="0.9"/>
<path d="M400 1140.8 L398.8 1147.5 L395 1156.7 L388.3 1175.8 L385.8 1177.5 L381.7 1175.8 L388.3 1156.7 L392.5 1145.8 L396.7 1135.8Z" fill="#5a5e5d" opacity="0.55"/>
<path d="M315 1141.2 L318.3 1145.2 L330 1151 L355 1163.5 L380 1175.2 L385.8 1177.7" fill="none" stroke="#111312" stroke-width="1.2"/>
</g>
<ellipse cx="367.5" cy="1114" rx="7.2" ry="4.4" transform="rotate(50 367.5 1114)" fill="#0b0c0c"/>
<ellipse cx="367.5" cy="1114" rx="5" ry="2.6" transform="rotate(50 367.5 1114)" fill="none" stroke="#2c302f" stroke-width="0.6"/>
<text transform="translate(378.6 1119.5) rotate(52) scale(0.85 1)" font-family="Liberation Sans, sans-serif" font-weight="bold" font-size="13.5" fill="#0b0c0c">C</text>
<path d="M333.3 1095 L338.3 1093.3 L345 1100 L343.3 1103.3 L338.3 1100Z" fill="#0d0f0e"/>
</g>
</g>
</g>
<g id="callouts-front">
<path class="ln" d="M1066 1332.5 H1458 V1066"/>
<circle cx="1458.4" cy="1067.6" r="17.9" fill="#fff"/>
<circle class="dot" cx="1458.4" cy="1067.6" r="16.9"/>
</g>
</svg>
</body>
</html>
